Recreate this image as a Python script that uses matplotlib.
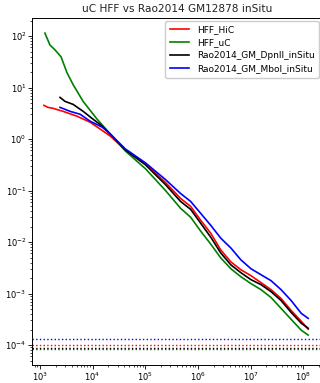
import numpy as np
import matplotlib
matplotlib.use("Agg")
import matplotlib.pyplot as plt

# ---------------- data ----------------
TITLE = "uC HFF vs Rao2014 GM12878 inSitu"
LABELS = ["HFF_HiC", "HFF_uC", "Rao2014_GM_DpnII_inSitu", "Rao2014_GM_MboI_inSitu"]
COLORS = ["red", "green", "black", "blue"]

# shared distance bins from ~2e4 bp onwards
tail_x = [21700, 41900, 101000, 243000, 470000, 730000, 1.13e6, 1.75e6, 2.72e6, 4.23e6,
          6.56e6, 1.02e7, 1.58e7, 2.45e7, 3.8e7, 5.9e7, 9.2e7, 1.245e8]

hic_x = [1190, 1420, 1770, 2750, 5080, 9000, 13970] + tail_x
hic_y = [4.51, 4.12, 3.95, 3.45, 2.77, 2.12, 1.56,
         1.14, 0.614, 0.330, 0.143, 0.0702, 0.0492, 0.0265, 0.0149, 0.00702, 0.00412,
         0.0029, 0.00222, 0.00163, 0.00119, 8.02e-4, 4.71e-4, 2.9e-4, 2.03e-4]

uc_x = [1245, 1550, 1930, 2520, 3270, 4270, 6620, 12240] + tail_x
uc_y = [114, 67, 54, 39.5, 19.4, 11.4, 5.38, 2.42,
        1.25, 0.587, 0.265, 0.100, 0.0451, 0.0303, 0.0163, 0.00916, 0.00492, 0.00303,
        0.00212, 0.00156, 0.00119, 8.38e-4, 5.15e-4, 3.16e-4, 1.94e-4, 1.56e-4]

dpn_x = [2410, 3000, 4270, 6620, 10260, 15250] + tail_x
dpn_y = [6.43, 5.38, 4.71, 3.45, 2.42, 1.78,
         1.25, 0.614, 0.316, 0.130, 0.0614, 0.0431, 0.0232, 0.0125, 0.00614, 0.00361,
         0.00254, 0.00186, 0.00149, 0.00109, 7.33e-4, 4.31e-4, 2.65e-4, 2.12e-4]

mbo_x = [2410, 3740, 5800, 9000, 15250] + tail_x
mbo_y = [4.12, 3.45, 3.03, 2.22, 1.70,
         1.25, 0.643, 0.345, 0.163, 0.0875, 0.0614, 0.0361, 0.0212, 0.0119, 0.00767,
         0.00451, 0.00303, 0.00232, 0.00178, 0.00119, 7.33e-4, 4.12e-4, 3.30e-4]

# dotted baseline levels (same order as LABELS)
floor_y = [1.0e-4, 8.4e-5, 8.76e-5, 1.30e-4]

XTICKS = [1e3, 1e4, 1e5, 1e6, 1e7, 1e8]
YTICKS = [1e-4, 1e-3, 1e-2, 1e-1, 1e0, 1e1, 1e2]

# ----------------------------- plot -----------------------------
fig = plt.figure(figsize=(3.2, 3.83), dpi=100)
ax = fig.add_axes([0.1, 0.048, 0.905, 0.905])

series = [(hic_x, hic_y), (uc_x, uc_y), (dpn_x, dpn_y), (mbo_x, mbo_y)]
for (x, y), lab, c in zip(series, LABELS, COLORS):
    ax.plot(x, y, color=c, lw=1.2, label=lab)
for yv, c in zip(floor_y, COLORS):
    ax.axhline(yv, color=c, ls=":", lw=1.0)

ax.set_xscale("log")
ax.set_yscale("log")
ax.set_xticks(XTICKS)
ax.set_yticks(YTICKS)
ax.set_xlim(10 ** 2.85, 10 ** 8.35)
ax.set_ylim(10 ** -4.38, 10 ** 2.35)
ax.tick_params(labelsize=6, length=3, width=0.6, pad=1)
ax.tick_params(which="minor", length=1.5, width=0.5)
for s in ax.spines.values():
    s.set_linewidth(0.7)
ax.set_title(TITLE, fontsize=7.6, pad=4, color="#222222")
ax.legend(loc="upper right", fontsize=6.5, handlelength=2.2, borderpad=0.5,
          labelspacing=0.45, framealpha=1, borderaxespad=0.3)

fig.savefig("out.png", dpi=100)
